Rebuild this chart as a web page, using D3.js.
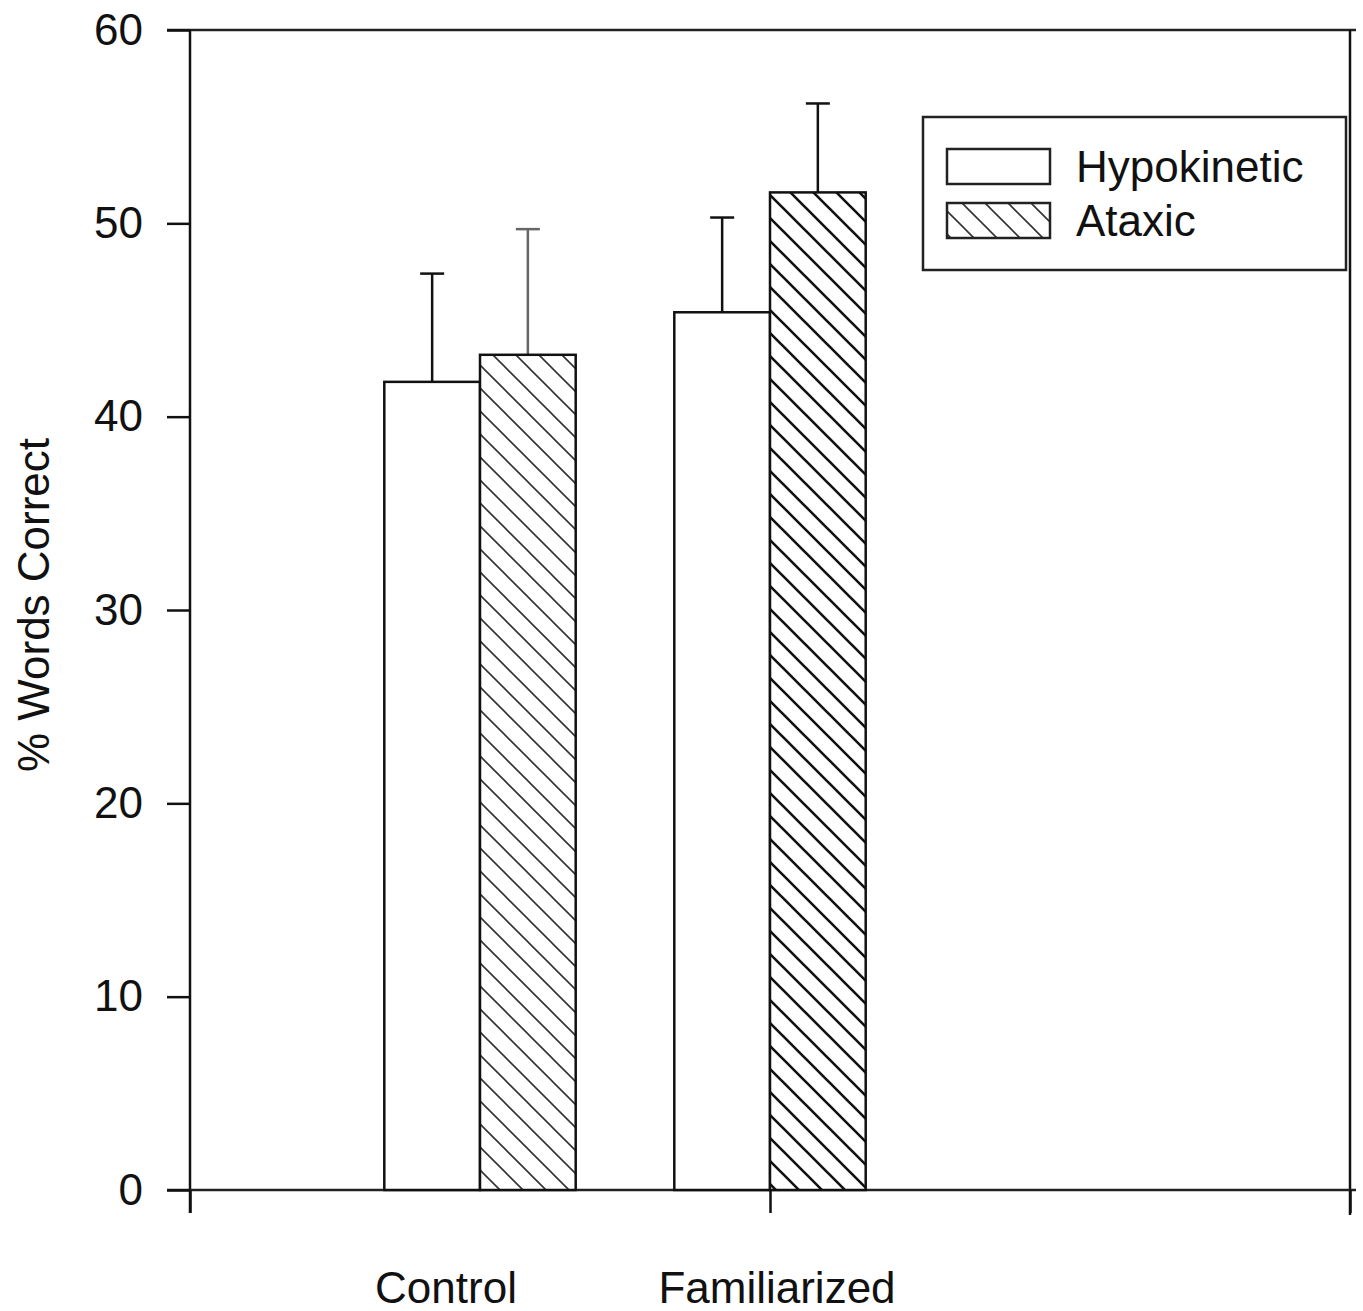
<!DOCTYPE html>
<html>
<head>
<meta charset="utf-8">
<script src="https://cdn.jsdelivr.net/npm/d3@7"></script>
<style>
  body { margin: 0; background: #fff; }
  text { font-family: "Liberation Sans", Arial, sans-serif; fill: #111; }
</style>
</head>
<body>
<div id="chart"></div>
<script>
// data
var categories = ["Control", "Familiarized"];
var seriesNames = ["Hypokinetic", "Ataxic"];
var hypokineticMeans = [41.8, 45.4];
var hypokineticErr = [5.6, 4.9];
var ataxicMeans = [43.2, 51.6];
var ataxicErr = [6.5, 4.6];
var yTicks = [0, 10, 20, 30, 40, 50, 60];

var width = 1363, height = 1311;
var plotLeft = 190, plotRight = 1350, plotTop = 30, plotBottom = 1190;

var svg = d3.select("#chart").append("svg")
  .attr("width", width)
  .attr("height", height);

// hatch patterns (control hatch looks lighter than familiarized in the scan)
var defs = svg.append("defs");
function hatch(id, w, col) {
  var p = defs.append("pattern")
    .attr("id", id)
    .attr("patternUnits", "userSpaceOnUse")
    .attr("width", 23)
    .attr("height", 23);
  p.append("rect").attr("width", 23).attr("height", 23).attr("fill", "#fff");
  p.append("path")
    .attr("d", "M-6,-6 L29,29 M-6,17 L6,29 M17,-6 L29,6")
    .attr("stroke", col)
    .attr("stroke-width", w);
}
hatch("hatchLight", 1.6, "#333");
hatch("hatchDark", 2.6, "#111");

// scales: categories sit at 0 and 1, axis runs from -1 to 3
var x = d3.scaleLinear().domain([-1, 3]).range([plotLeft, plotRight]);
var y = d3.scaleLinear().domain([0, 60]).range([plotBottom, plotTop]);
var barW = 0.33;

// frame lines
svg.append("line").attr("x1", 167).attr("x2", 1356).attr("y1", plotTop).attr("y2", plotTop)
  .attr("stroke", "#222").attr("stroke-width", 2.5);
svg.append("line").attr("x1", plotRight).attr("x2", plotRight).attr("y1", plotTop).attr("y2", 1215)
  .attr("stroke", "#111").attr("stroke-width", 2.5);
svg.append("line").attr("x1", plotLeft).attr("x2", plotLeft).attr("y1", plotTop).attr("y2", 1213)
  .attr("stroke", "#111").attr("stroke-width", 2.5);
svg.append("line").attr("x1", 167).attr("x2", 1356).attr("y1", plotBottom).attr("y2", plotBottom)
  .attr("stroke", "#222").attr("stroke-width", 2.5);

// y axis
var yAxis = svg.append("g")
  .attr("transform", "translate(" + plotLeft + ",0)")
  .call(d3.axisLeft(y).tickValues(yTicks).tickSize(23).tickPadding(24));
yAxis.select(".domain").remove();
yAxis.selectAll(".tick line").attr("stroke", "#111").attr("stroke-width", 2.5);
yAxis.selectAll(".tick text")
  .style("font-size", "44px")
  .style("font-family", "'Liberation Sans', Arial, sans-serif")
  .attr("fill", "#111");

// x axis ticks only
var xAxis = svg.append("g")
  .attr("transform", "translate(0," + plotBottom + ")")
  .call(d3.axisBottom(x).tickValues([-1, 1, 3]).tickSize(23).tickFormat(""));
xAxis.select(".domain").remove();
xAxis.selectAll(".tick line").attr("stroke", "#111").attr("stroke-width", 2.5);

// category labels
var labelShift = [-34, 7];
svg.selectAll(".catLabel")
  .data(categories)
  .enter()
  .append("text")
  .attr("class", "catLabel")
  .attr("x", function(d, i) { return x(i) + labelShift[i]; })
  .attr("y", 1303)
  .attr("text-anchor", "middle")
  .style("font-size", "44px")
  .text(function(d) { return d; });

// y title
svg.append("text")
  .attr("transform", "translate(49,605) rotate(-90)")
  .attr("text-anchor", "middle")
  .style("font-size", "44px")
  .text("% Words Correct");

// bars
var barData = [];
for (var i = 0; i < categories.length; i++) {
  barData.push({ cat: i, s: 0, mean: hypokineticMeans[i], err: hypokineticErr[i] });
  barData.push({ cat: i, s: 1, mean: ataxicMeans[i], err: ataxicErr[i] });
}

function barX0(d) { return d.s == 0 ? x(d.cat - barW) : x(d.cat); }
function barX1(d) { return d.s == 0 ? x(d.cat) : x(d.cat + barW); }

// error bars first so the bar outline sits on top
var errs = svg.selectAll(".err").data(barData).enter().append("g").attr("class", "err");
errs.append("line")
  .attr("x1", function(d) { return (barX0(d) + barX1(d)) / 2; })
  .attr("x2", function(d) { return (barX0(d) + barX1(d)) / 2; })
  .attr("y1", function(d) { return y(d.mean); })
  .attr("y2", function(d) { return y(d.mean + d.err); })
  .attr("stroke", function(d) { return d.cat == 0 && d.s == 1 ? "#666" : "#111"; })
  .attr("stroke-width", 2.5);
errs.append("line")
  .attr("x1", function(d) { return (barX0(d) + barX1(d)) / 2 - 12; })
  .attr("x2", function(d) { return (barX0(d) + barX1(d)) / 2 + 12; })
  .attr("y1", function(d) { return y(d.mean + d.err); })
  .attr("y2", function(d) { return y(d.mean + d.err); })
  .attr("stroke", function(d) { return d.cat == 0 && d.s == 1 ? "#666" : "#111"; })
  .attr("stroke-width", 2.5);

svg.selectAll(".bar")
  .data(barData)
  .enter()
  .append("rect")
  .attr("class", "bar")
  .attr("x", barX0)
  .attr("width", function(d) { return barX1(d) - barX0(d); })
  .attr("y", function(d) { return y(d.mean); })
  .attr("height", function(d) { return y(0) - y(d.mean); })
  .attr("fill", function(d) {
    if (d.s == 0) return "#fff";
    return d.cat == 0 ? "url(#hatchLight)" : "url(#hatchDark)";
  })
  .attr("stroke", "#111")
  .attr("stroke-width", 2.5);

// legend
var legend = svg.append("g");
legend.append("rect")
  .attr("x", 923).attr("y", 117).attr("width", 423).attr("height", 153)
  .attr("fill", "#fff").attr("stroke", "#222").attr("stroke-width", 2.5);
var legendY = [149, 203];
seriesNames.forEach(function(name, i) {
  legend.append("rect")
    .attr("x", 947).attr("y", legendY[i]).attr("width", 103).attr("height", 35)
    .attr("fill", i == 0 ? "#fff" : "url(#hatchLight)")
    .attr("stroke", "#222").attr("stroke-width", 2.5);
  legend.append("text")
    .attr("x", 1076).attr("y", legendY[i] + 33)
    .style("font-size", "44px")
    .text(name);
});
</script>
</body>
</html>
